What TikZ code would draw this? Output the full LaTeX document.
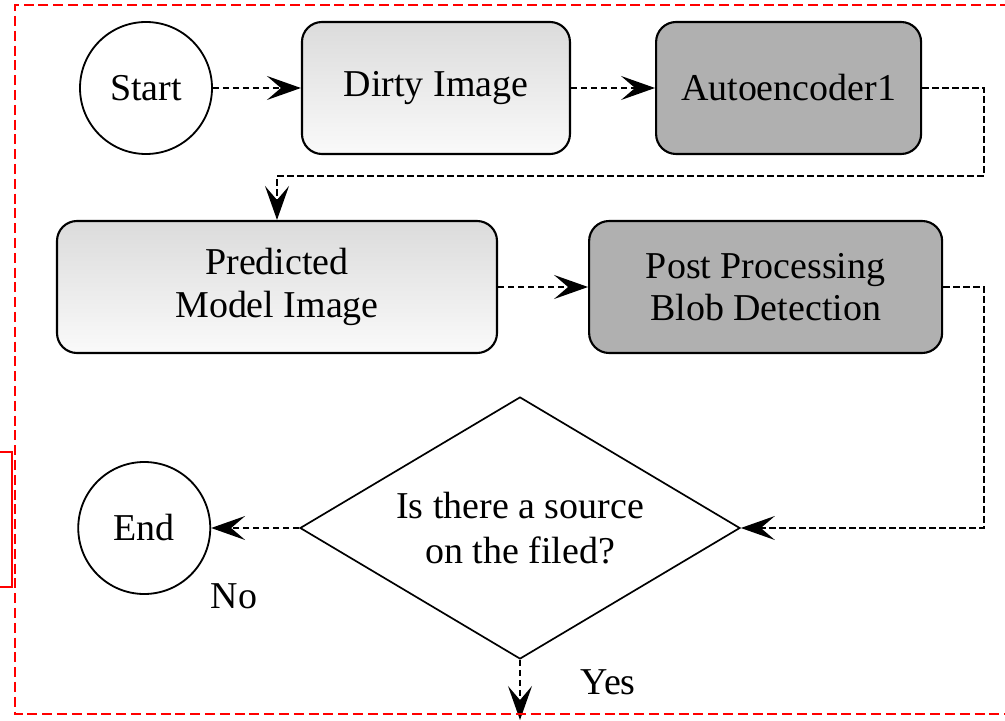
\documentclass[tikz,border=0pt]{standalone}
\usepackage{fontspec}
\setmainfont{Liberation Serif}
\usetikzlibrary{arrows.meta,positioning,shapes.geometric}

\begin{document}
\begin{tikzpicture}[
    term/.style={draw, circle, line width=1.3pt, minimum size=3.3cm,
                 inner sep=0pt, font=\fontsize{27}{31}\selectfont},
    box/.style={draw, rounded corners=0.5cm, line width=1.5pt,
                minimum width=#1, minimum height=3.3cm, align=center,
                font=\fontsize{27}{30}\selectfont},
    lite/.style={top color=black!14, bottom color=black!2},
    dark/.style={fill=black!31},
    decide/.style={draw, diamond, aspect=1.68, line width=1.2pt,
                   minimum width=11cm, minimum height=6.55cm, inner sep=0pt,
                   align=center, font=\fontsize{27}{32}\selectfont},
    arrow/.style={-{Stealth[length=8.5mm, width=6mm, inset=3.5mm]},
                  line width=1.2pt, dash pattern=on 0.16cm off 0.09cm},
    lbl/.style={font=\fontsize{27}{31}\selectfont}
]
\clip (0,0) rectangle (25.125,-18.025);
\node[term] (start) at (3.65,-2.2) {Start};
\node[box=6.7cm, lite, right=2.2cm of start] (dirty) {Dirty Image};
\node[box=6.625cm, dark, right=2.1cm of dirty] (auto) {Autoencoder1};
\node[box=11cm, lite] (pred) at (6.925,-7.175) {Predicted\\Model Image};
\node[box=8.825cm, dark, right=2.25cm of pred] (post)
                           {Post Processing\\Blob Detection};
\node[decide] (check) at (13,-13.2) {Is there a source\\on the filed?};
\node[term, left=2.2cm of check] (end) {End};
\node[lbl] (no) at (5.85,-14.9) {No};
\node[lbl] (yes) at (15.2,-17.05) {Yes};
\coordinate (turnA) at (24.6,-4.4);
\coordinate (turnB) at (24.6,-13.2);
\coordinate (out) at (13,-18.0);
\draw[arrow](start)--(dirty); \draw[arrow](dirty)--(auto);
\draw[arrow](auto.east) -| (turnA) -| (pred.north);
\draw[arrow](pred)--(post);
\draw[arrow](post.east) -| (turnB) -- (check.east);
\draw[arrow](check.west)--(end); \draw[arrow](check.south)--(out);
\draw[red, line width=1.8pt, dash pattern=on 0.25cm off 0.12cm]
    (26,-0.125) -- (0.375,-0.125) -- (0.375,-17.85) -- (26,-17.85);
\draw[red, line width=0.9pt]
    (-0.2,-11.3) -- (0.3,-11.3) -- (0.3,-14.675) -- (-0.2,-14.675);
\end{tikzpicture}
\end{document}
